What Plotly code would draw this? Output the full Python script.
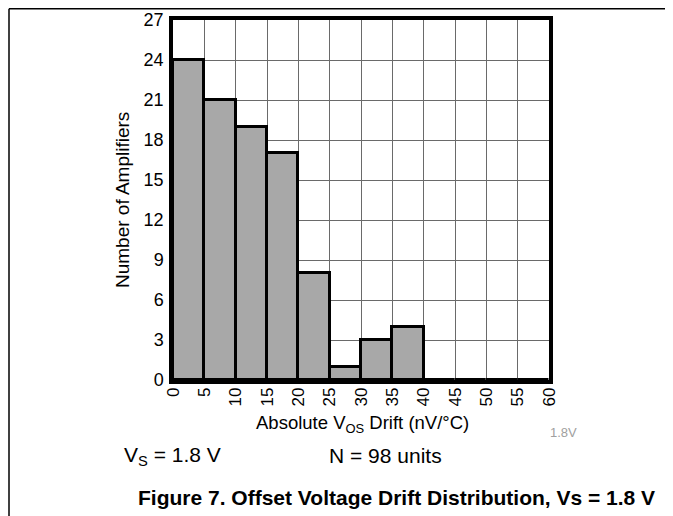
import plotly.graph_objects as go

# Data
bin_starts = [0, 5, 10, 15, 20, 25, 30, 35, 40, 45, 50, 55]
counts = [24, 21, 19, 17, 8, 1, 3, 4, 0, 0, 0, 0]
bin_width = 5
x_ticks = [0, 5, 10, 15, 20, 25, 30, 35, 40, 45, 50, 55, 60]
y_ticks = [0, 3, 6, 9, 12, 15, 18, 21, 24, 27]

# page is drawn with an 8px body margin, so figure coords = page coords - 8
OFF = 8
W, H = 673 - OFF, 516 - OFF
L, R, T, B = 173 - OFF, 549 - OFF, 20 - OFF, 380 - OFF  # plot area in figure px

def px(x):  # page x -> paper
    return (x - OFF - L) / (R - L)

def py(y):  # page y -> paper
    return (B - (y - OFF)) / (B - T)

FONT = "Liberation Sans, Arial, sans-serif"

fig = go.Figure()
fig.add_trace(go.Bar(
    x=bin_starts, y=counts, width=bin_width, offset=0,
    marker=dict(color="#a8a8a8", line=dict(color="black", width=3)),
    showlegend=False, hoverinfo="skip",
))

fig.update_layout(
    width=W, height=H,
    margin=dict(l=L, r=W - R, t=T, b=H - B, pad=0, autoexpand=False),
    paper_bgcolor="white", plot_bgcolor="white",
    font=dict(family=FONT, size=18, color="black"),
    bargap=0,
    xaxis=dict(
        range=[0, 60], tickvals=x_ticks, ticktext=[str(v) for v in x_ticks],
        tickangle=-90, showgrid=True, gridcolor="#6a6a6a", gridwidth=1,
        showline=True, linecolor="black", linewidth=3.5, mirror=True,
        ticks="", zeroline=False, tickfont=dict(size=17), ticklabelstandoff=-3,
        automargin=False,
    ),
    yaxis=dict(
        range=[0, 27], tickvals=y_ticks, ticktext=[str(v) for v in y_ticks],
        showgrid=True, gridcolor="#6a6a6a", gridwidth=1,
        showline=True, linecolor="black", linewidth=3.5, mirror=True,
        ticks="", zeroline=False, tickfont=dict(size=18), ticklabelstandoff=2,
        automargin=False,
    ),
)

annotations = [
    dict(text="Number of Amplifiers", x=px(122), y=py(200), textangle=-90,
         font=dict(size=19)),
    dict(text="Absolute V<sub>OS</sub> Drift (nV/°C)", x=px(362), y=py(424),
         font=dict(size=18.5)),
    dict(text="1.8V", x=px(563), y=py(432), font=dict(size=13, color="#a0a0a0")),
    dict(text="V<sub>S</sub> = 1.8 V", x=px(172), y=py(456), font=dict(size=21)),
    dict(text="N = 98 units", x=px(385), y=py(455), font=dict(size=21)),
    dict(text="<b>Figure 7. Offset Voltage Drift Distribution, Vs = 1.8 V</b>",
         x=px(396.5), y=py(497), font=dict(size=21)),
]
for a in annotations:
    a.update(xref="paper", yref="paper", showarrow=False, xanchor="center",
             yanchor="middle")
    fig.add_annotation(**a)

# Page frame lines
fig.add_shape(type="line", xref="paper", yref="paper",
              x0=px(9), x1=px(673), y0=py(OFF + 0.75), y1=py(OFF + 0.75),
              line=dict(color="black", width=1.5))
fig.add_shape(type="line", xref="paper", yref="paper",
              x0=px(9), x1=px(9), y0=py(OFF + 0.75), y1=py(516),
              line=dict(color="black", width=1.5))

fig.write_html("out.html")
